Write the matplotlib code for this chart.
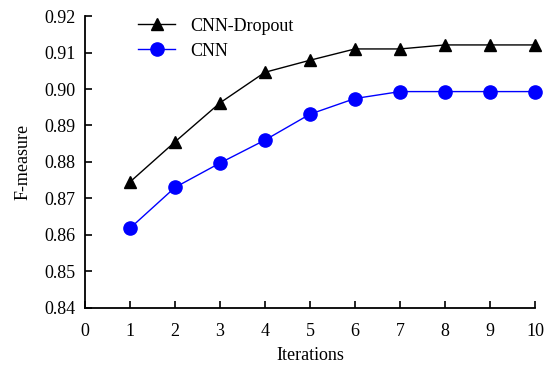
import matplotlib
matplotlib.use("Agg")
from matplotlib import pyplot as plt

iterations = [1, 2, 3, 4, 5, 6, 7, 8, 9, 10]
f_dropout = [0.8745, 0.8855, 0.8962, 0.9046, 0.9079, 0.9110, 0.9110, 0.9121, 0.9121, 0.9121]
f_cnn = [0.8618, 0.8730, 0.8797, 0.8860, 0.8931, 0.8974, 0.8993, 0.8993, 0.8993, 0.8993]
x_ticks = list(range(0, 11))
y_ticks = [0.84, 0.85, 0.86, 0.87, 0.88, 0.89, 0.90, 0.91, 0.92]

plt.rcParams['font.family'] = ['Liberation Serif', 'DejaVu Serif']
plt.rcParams['font.size'] = 13

fig = plt.figure(figsize=(5.54, 3.67), dpi=100)
ax = fig.add_axes([0.1534, 0.1616, 0.8123, 0.7944])

ax.plot(iterations, f_dropout, color='black', linewidth=1.0,
        marker='^', markersize=9, label='CNN-Dropout', clip_on=False)
ax.plot(iterations, f_cnn, color='#0000ff', linewidth=1.0,
        marker='o', markersize=9.5, label='CNN', clip_on=False)

ax.set_xlim(0, 10)
ax.set_ylim(0.84, 0.92)
ax.set_xticks(x_ticks)
ax.set_yticks(y_ticks)
ax.set_yticklabels(['{0:.2f}'.format(v) for v in y_ticks])

for side in ('top', 'right'):
    ax.spines[side].set_visible(False)
for side in ('left', 'bottom'):
    ax.spines[side].set_linewidth(1.3)

ax.tick_params(axis='x', direction='in', length=5, width=1.2, pad=11)
ax.tick_params(axis='y', direction='in', length=5, width=1.2, pad=7)

ax.set_xlabel('Iterations', labelpad=5)
ax.set_ylabel('F-measure', labelpad=9)

ax.legend(loc='upper left', bbox_to_anchor=(0.102, 1.02), frameon=False,
          handlelength=2.05, handletextpad=0.85, labelspacing=0.45,
          borderaxespad=0.0)

fig.savefig('out.png', dpi=100)
